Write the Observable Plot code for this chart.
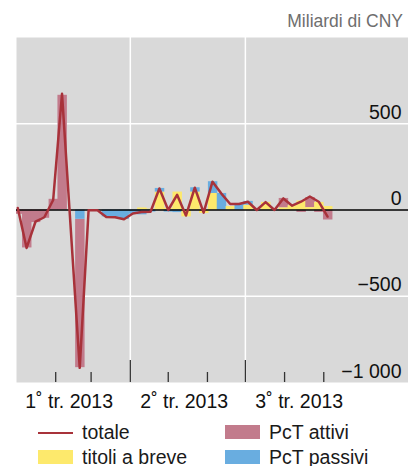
<!DOCTYPE html>
<html><head><meta charset="utf-8">
<script src="https://cdn.jsdelivr.net/npm/d3@7"></script>
<script src="https://cdn.jsdelivr.net/npm/@observablehq/plot@0.6"></script>
<style>
body{margin:0;background:#fff;font-family:"Liberation Sans",Arial,sans-serif;}
#wrap{position:relative;width:408px;height:466px;overflow:hidden;background:#fff;}
#unit{position:absolute;right:5px;top:13px;font-size:17.5px;line-height:1;color:#6e6e6e;white-space:nowrap;}
#chart{position:absolute;left:0;top:0;}
.lg{position:absolute;font-size:19.5px;line-height:1;color:#1a1a1a;white-space:nowrap;}
.sw{position:absolute;}
</style></head><body>
<div id="wrap">
  <div id="chart"></div>
  <div id="unit">Miliardi di CNY</div>
</div>
<script>
// ---- data ----
const weeks = ["2013-01-02","2013-01-09","2013-01-16","2013-01-23","2013-01-30","2013-02-06",
  "2013-02-20","2013-02-27","2013-03-06","2013-03-13","2013-03-20","2013-03-27",
  "2013-04-03","2013-04-10","2013-04-17","2013-04-24","2013-05-01","2013-05-08","2013-05-15",
  "2013-05-22","2013-05-29","2013-06-05","2013-06-12","2013-06-19","2013-06-26",
  "2013-07-03","2013-07-10","2013-07-17","2013-07-24","2013-07-31","2013-08-07","2013-08-14",
  "2013-08-21","2013-08-28","2013-09-04"];
const totale  = [12,-220,-68,-42,58,674, -915,-2,-2,-40,-42,-54, -20,-12,-10,125,0,88,-32,129,-15,164,95,35,35, 48,0,46,0,67,25,48,78,48,-38];
const pctAttivi = [-25,-220,-73,-48,62,665, -860,0,0,0,0,0, 0,0,0,0,0,0,0,0,0,0,0,0,0, 0,0,0,0,55,0,-14,58,-14,-58];
const titoli    = [0,0,0,0,0,0, 0,0,0,0,0,0, 0,12,5,104,10,104,-40,104,-20,96,0,20,0, 28,0,44,0,12,25,52,14,44,20];
const pctPassivi= [0,0,0,0,0,0, -54,0,0,-40,-42,-55, -25,-28,-12,21,-12,-15,0,25,0,68,96,0,38, 22,0,0,0,0,0,0,0,0,0];
const seriesNames  = ["PcT attivi","titoli a breve","PcT passivi"];
const seriesColors = ["#c27b8c","#fde96c","#69ade0"];
const stackOrder   = ["titoli a breve","PcT passivi","PcT attivi"];
const lineName = "totale";
const lineColor = "#a8323a";
const yTicks = [500, 0, -500, -1000];
const gridValues = [500, -500];
const quarterStarts = ["2013-04-01","2013-07-01"];
const monthTicks = ["2013-02-01","2013-03-01","2013-05-01","2013-06-01","2013-08-01","2013-09-01"];
const quarterLabels = ["1\u02DA tr. 2013","2\u02DA tr. 2013","3\u02DA tr. 2013"];
const quarterMids = ["2013-02-14","2013-05-16","2013-08-15"];
const xDomain = ["2013-01-01","2013-11-07"];

// ---- build tables ----
const D = s => new Date(s + "T00:00:00Z");
const seriesVals = {"PcT attivi": pctAttivi, "titoli a breve": titoli, "PcT passivi": pctPassivi};
const barRows = [];
weeks.forEach((w, i) => {
  for (const s of seriesNames) barRows.push({date: D(w), series: s, value: seriesVals[s][i]});
});
const lineRows = weeks.map((w, i) => ({date: D(w), value: totale[i]}));
const fmt = d => (d < 0 ? "\u2212" : "") + String(Math.abs(d)).replace(/\B(?=(\d{3})+(?!\d))/g, " ");

const chart = Plot.plot({
  width: 408, height: 415,
  marginTop: 37, marginBottom: 33, marginLeft: 16, marginRight: 0,
  style: {fontFamily: "'Liberation Sans', Arial, sans-serif", fontSize: "19.5px", background: "transparent", overflow: "visible"},
  x: {type: "utc", domain: xDomain.map(D), axis: null},
  y: {domain: [-1000, 1000], axis: null},
  color: {domain: seriesNames, range: seriesColors},
  marks: [
    Plot.frame({fill: "#d9d9d9", stroke: null}),
    Plot.ruleY(gridValues, {stroke: "#fff", strokeWidth: 1.5}),
    Plot.ruleX(quarterStarts.map(D), {stroke: "#fff", strokeWidth: 1.5}),
    Plot.rectY(barRows, {x: "date", interval: d3.utcWeek, y: "value", fill: "series", order: stackOrder, clip: true, insetLeft: -0.3, insetRight: -0.3}),
    Plot.ruleY([0], {stroke: "#000", strokeWidth: 1.6}),
    Plot.lineY(lineRows, {x: "date", y: "value", stroke: lineColor, strokeWidth: 2.5}),
    Plot.ruleX(monthTicks.map(D), {stroke: "#333", strokeWidth: 1.3, insetTop: 335}),
    Plot.ruleX(quarterStarts.map(D), {stroke: "#333", strokeWidth: 1.3, insetTop: 323}),
    Plot.text(yTicks, {y: d => d, text: d => fmt(d), frameAnchor: "right", textAnchor: "end", lineAnchor: "bottom", dx: -7, dy: -5, fill: "#111"}),
    Plot.text(quarterLabels, {x: (d, i) => D(quarterMids[i]), text: d => d, frameAnchor: "bottom", lineAnchor: "top", dy: 11.5, dx: -3, fill: "#111"})
  ]
});
document.getElementById("chart").appendChild(chart);

// ---- legend ----
const wrap = document.getElementById("wrap");
const legendItems = [
  {label: lineName, kind: "line", color: lineColor, left: 38, top: 422.5},
  {label: "PcT attivi", kind: "box", color: seriesColors[0], left: 225, top: 422.5},
  {label: "titoli a breve", kind: "box", color: seriesColors[1], left: 38, top: 447.5},
  {label: "PcT passivi", kind: "box", color: seriesColors[2], left: 225, top: 447.5}
];
for (const it of legendItems) {
  const sw = document.createElement("div");
  sw.className = "sw";
  sw.style.left = it.left + "px";
  sw.style.width = "35px";
  sw.style.background = it.color;
  if (it.kind === "line") { sw.style.top = (it.top + 9) + "px"; sw.style.height = "2px"; }
  else { sw.style.top = (it.top + 2.5) + "px"; sw.style.height = "14px"; }
  wrap.appendChild(sw);
  const t = document.createElement("div");
  t.className = "lg";
  t.style.left = (it.left + 44) + "px";
  t.style.top = it.top + "px";
  t.textContent = it.label;
  wrap.appendChild(t);
}
</script>
</body></html>
